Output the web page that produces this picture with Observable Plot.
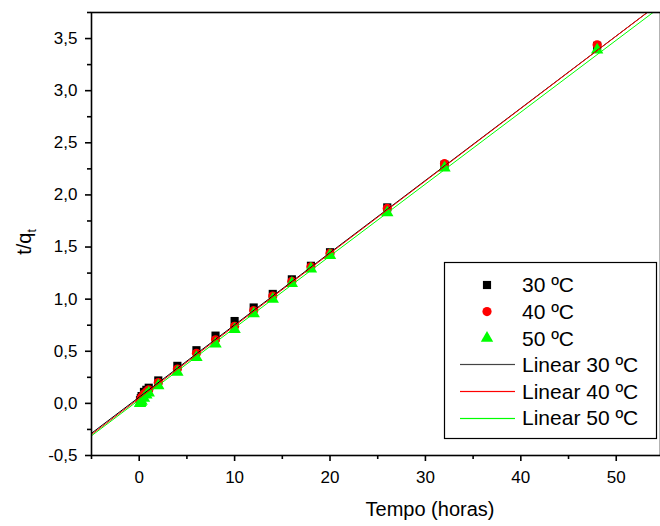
<!DOCTYPE html>
<html><head><meta charset="utf-8">
<script src="https://cdn.jsdelivr.net/npm/d3@7"></script>
<script src="https://cdn.jsdelivr.net/npm/@observablehq/plot@0.6"></script>
<style>body{margin:0;background:#fff} svg{display:block;overflow:hidden}</style>
</head><body><div id="chart"></div>
<script>
// Data
const times = [0.083, 0.167, 0.25, 0.5, 0.75, 1, 2, 4, 6, 8, 10, 12, 14, 16, 18, 20, 26, 32, 48];
const q30 = [0.03, 0.05, 0.07, 0.11, 0.13, 0.15, 0.22, 0.36, 0.51, 0.65, 0.79, 0.92, 1.05, 1.19, 1.32, 1.45, 1.88, 2.29, 3.43];
const q40 = [0.02, 0.04, 0.06, 0.09, 0.11, 0.13, 0.20, 0.33, 0.48, 0.61, 0.74, 0.89, 1.03, 1.17, 1.31, 1.44, 1.87, 2.30, 3.44];
const q50 = [0.00, 0.01, 0.02, 0.05, 0.08, 0.10, 0.17, 0.30, 0.44, 0.57, 0.71, 0.86, 1.00, 1.15, 1.29, 1.42, 1.83, 2.26, 3.39];
const seriesNames = ["30 ºC", "40 ºC", "50 ºC"];
const fitNames = ["Linear 30 ºC", "Linear 40 ºC", "Linear 50 ºC"];
const fitIntercepts = [0.060, 0.049, 0.034];
const fitSlopes = [0.0693, 0.0695, 0.0690];
const colors = ["#000000", "#ff0000", "#00ff00"];
const legendLineColors = ["#444444", "#ff0000", "#00ff00"];
const symbols = ["square", "circle", "triangle"];
const xTicks = [0, 10, 20, 30, 40, 50];
const xMinor = [-5, 5, 15, 25, 35, 45, 55];
const yTicks = [-0.5, 0, 0.5, 1.0, 1.5, 2.0, 2.5, 3.0, 3.5];
const yMinor = [-0.25, 0.25, 0.75, 1.25, 1.75, 2.25, 2.75, 3.25, 3.75];
const xDomain = [-5, 54.64];
const yDomain = [-0.5, 3.75];

const allQ = [q30, q40, q50];
const points = [];
allQ.forEach((qs, s) => qs.forEach((v, i) => points.push({t: times[i], v, s})));
const fits = [];
fitSlopes.forEach((m, s) => xDomain.forEach(x => fits.push({x, y: fitIntercepts[s] + m * x, s})));

const fmt = d => d.toFixed(1).replace(".", ",");
const font = "Liberation Sans, Arial, sans-serif";

const plot = Plot.plot({
  width: 660, height: 526,
  marginLeft: 91, marginRight: 0, marginTop: 12, marginBottom: 71,
  style: {fontFamily: font, background: "#fff", color: "#000"},
  x: {domain: xDomain},
  y: {domain: yDomain},
  marks: [
    ...[0, 1, 2].map(s => Plot.dot(points.filter(d => d.s === s), {
      x: "t", y: "v", symbol: () => symbols[s], r: 4.6, fill: colors[s], stroke: "none"
    })),
    ...[0, 1, 2].map(s => Plot.line(fits.filter(d => d.s === s), {
      x: "x", y: "y", stroke: colors[s], strokeWidth: 1, clip: true
    })),
    Plot.axisX(xTicks, {tickSize: 6, tickPadding: 9, tickFormat: d => String(d), fontSize: 17, strokeWidth: 1.6, label: null}),
    Plot.axisX(xMinor, {tickSize: 4, tickFormat: () => "", strokeWidth: 1.6, label: null}),
    Plot.axisY(yTicks, {tickSize: 6, tickPadding: 8, tickFormat: fmt, fontSize: 17, strokeWidth: 1.6, label: null}),
    Plot.axisY(yMinor, {tickSize: 4, tickFormat: () => "", strokeWidth: 1.6, label: null}),
    Plot.frame({stroke: "#000", strokeWidth: 1.6})
  ]
});
document.getElementById("chart").append(plot);

const svg = d3.select(plot);
// axis titles
svg.append("text").attr("x", 430).attr("y", 516).attr("text-anchor", "middle")
  .attr("font-family", font).attr("font-size", 20).attr("fill", "#000").text("Tempo (horas)");
const yt = svg.append("text").attr("transform", "translate(31,242) rotate(-90)")
  .attr("text-anchor", "middle").attr("font-family", font).attr("font-size", 20).attr("fill", "#000");
yt.append("tspan").text("t/q");
yt.append("tspan").attr("font-size", 12).attr("dy", 5).text("t");

// legend
const lg = svg.append("g").attr("font-family", font).attr("font-size", 21).attr("text-anchor", "start");
lg.append("rect").attr("x", 444.5).attr("y", 262.5).attr("width", 212).attr("height", 176)
  .attr("fill", "#fff").attr("stroke", "#000").attr("stroke-width", 1.2);
const rowY = i => 285 + i * 26.6;
const symGen = {square: d3.symbolSquare, circle: d3.symbolCircle, triangle: d3.symbolTriangle};
seriesNames.forEach((name, i) => {
  lg.append("path").attr("transform", `translate(487,${rowY(i)})`)
    .attr("d", d3.symbol(symGen[symbols[i]], Math.PI * 4.6 * 4.6)()).attr("fill", colors[i]);
  lg.append("text").attr("x", 522).attr("y", rowY(i)).attr("dy", "0.35em").attr("text-anchor", "start").attr("fill", "#000").text(name);
});
fitNames.forEach((name, j) => {
  const i = j + 3;
  const ly = Math.floor(rowY(i)) + 0.5;
  lg.append("rect").attr("x", 460).attr("y", ly - 0.6).attr("width", 55).attr("height", 1.2)
    .style("fill", legendLineColors[j]);
  lg.append("text").attr("x", 522).attr("y", rowY(i)).attr("dy", "0.35em").attr("text-anchor", "start").attr("fill", "#000").text(name);
});
</script>
</body></html>
